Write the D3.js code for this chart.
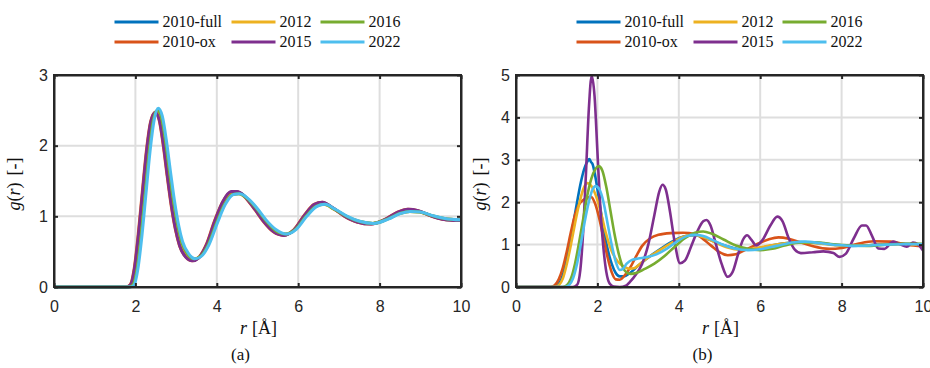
<!DOCTYPE html>
<html>
<head>
<meta charset="utf-8">
<script src="https://cdn.jsdelivr.net/npm/d3@7"></script>
<style>
  body { margin: 0; background: #fff; }
  svg { display: block; }
  .serif, .serif tspan { font-family: 'Liberation Serif', 'Times New Roman', serif; }
</style>
</head>
<body>
<script>
// series names and colours (MATLAB default order)
var seriesNames = ["2010-full", "2010-ox", "2012", "2015", "2016", "2022"];
var seriesColors = ["#0072BD", "#D95319", "#EDB120", "#7E2F8E", "#77AC30", "#4DBEEE"];

// tick labels
var xTicks = [0, 2, 4, 6, 8, 10];
var yTicksA = [0, 1, 2, 3];
var yTicksB = [0, 1, 2, 3, 4, 5];

// panel (a): [r, g(r)]
var a2010full = [[0,0],[1.8,0],[1.9,0.03],[2.0,0.26],[2.1,0.74],[2.2,1.34],[2.3,1.93],[2.4,2.34],[2.5,2.48],[2.61,2.37],[2.71,2.03],[2.81,1.58],[2.91,1.16],[3.01,0.83],[3.11,0.6],[3.26,0.44],[3.42,0.38],[3.57,0.42],[3.77,0.6],[3.97,0.92],[4.17,1.19],[4.37,1.33],[4.52,1.34],[4.77,1.24],[4.97,1.09],[5.17,0.94],[5.42,0.79],[5.67,0.74],[5.92,0.82],[6.17,1.01],[6.42,1.16],[6.62,1.19],[6.87,1.11],[7.17,1.0],[7.47,0.92],[7.82,0.9],[8.17,0.96],[8.47,1.05],[8.72,1.09],[8.97,1.07],[9.27,1.01],[9.57,0.96],[10,0.94]];
var a2010ox = [[0,0],[1.77,0],[1.87,0.03],[1.97,0.26],[2.07,0.75],[2.17,1.35],[2.27,1.93],[2.37,2.33],[2.48,2.47],[2.58,2.37],[2.68,2.02],[2.78,1.57],[2.88,1.15],[2.98,0.82],[3.08,0.59],[3.23,0.43],[3.39,0.37],[3.54,0.41],[3.74,0.6],[3.94,0.93],[4.14,1.2],[4.34,1.34],[4.49,1.35],[4.74,1.24],[4.94,1.09],[5.14,0.93],[5.39,0.78],[5.64,0.73],[5.89,0.81],[6.14,1.01],[6.39,1.17],[6.59,1.2],[6.84,1.12],[7.14,1.0],[7.44,0.92],[7.79,0.89],[8.14,0.96],[8.44,1.06],[8.69,1.1],[8.94,1.08],[9.24,1.01],[9.54,0.96],[10,0.94]];
var a2012 = [[0,0],[1.83,0],[1.93,0.03],[2.03,0.25],[2.13,0.73],[2.23,1.33],[2.33,1.92],[2.43,2.35],[2.53,2.49],[2.63,2.39],[2.73,2.05],[2.83,1.61],[2.93,1.19],[3.03,0.86],[3.13,0.62],[3.28,0.46],[3.43,0.4],[3.58,0.43],[3.78,0.6],[3.98,0.91],[4.18,1.18],[4.38,1.31],[4.53,1.32],[4.78,1.23],[4.98,1.1],[5.18,0.95],[5.43,0.8],[5.68,0.75],[5.93,0.82],[6.18,1.0],[6.43,1.14],[6.63,1.17],[6.88,1.1],[7.18,1.0],[7.48,0.93],[7.83,0.9],[8.18,0.96],[8.48,1.04],[8.73,1.07],[8.98,1.06],[9.28,1.01],[9.58,0.97],[10,0.95]];
var a2015 = [[0,0],[1.78,0],[1.88,0.03],[1.98,0.27],[2.08,0.76],[2.18,1.36],[2.28,1.94],[2.38,2.34],[2.49,2.47],[2.59,2.36],[2.69,2.01],[2.79,1.56],[2.89,1.14],[2.99,0.81],[3.09,0.58],[3.24,0.42],[3.4,0.37],[3.55,0.41],[3.75,0.6],[3.95,0.93],[4.15,1.21],[4.35,1.35],[4.5,1.35],[4.75,1.24],[4.95,1.09],[5.15,0.93],[5.4,0.78],[5.65,0.73],[5.9,0.81],[6.15,1.01],[6.4,1.17],[6.6,1.2],[6.85,1.12],[7.15,1.0],[7.45,0.92],[7.8,0.89],[8.15,0.96],[8.45,1.06],[8.7,1.1],[8.95,1.08],[9.25,1.01],[9.55,0.96],[10,0.94]];
var a2016 = [[0,0],[1.84,0],[1.94,0.03],[2.04,0.25],[2.14,0.72],[2.24,1.32],[2.34,1.92],[2.44,2.36],[2.54,2.5],[2.64,2.4],[2.74,2.06],[2.84,1.62],[2.94,1.2],[3.04,0.87],[3.14,0.63],[3.29,0.46],[3.44,0.4],[3.59,0.43],[3.79,0.6],[3.99,0.9],[4.19,1.17],[4.39,1.31],[4.54,1.32],[4.79,1.23],[4.99,1.1],[5.19,0.95],[5.44,0.8],[5.69,0.75],[5.94,0.82],[6.19,1.0],[6.44,1.14],[6.64,1.17],[6.89,1.1],[7.19,1.0],[7.49,0.93],[7.84,0.9],[8.19,0.96],[8.49,1.04],[8.74,1.07],[8.99,1.06],[9.29,1.01],[9.59,0.97],[10,0.95]];
var a2022 = [[0,0],[1.88,0],[1.97,0.03],[2.06,0.25],[2.16,0.72],[2.26,1.32],[2.36,1.92],[2.46,2.36],[2.56,2.53],[2.66,2.42],[2.76,2.08],[2.86,1.64],[2.96,1.22],[3.06,0.88],[3.16,0.64],[3.31,0.47],[3.46,0.4],[3.61,0.43],[3.81,0.6],[4.01,0.9],[4.21,1.17],[4.41,1.31],[4.56,1.32],[4.81,1.23],[5.01,1.1],[5.21,0.95],[5.46,0.81],[5.71,0.75],[5.96,0.82],[6.21,1.0],[6.46,1.14],[6.66,1.17],[6.91,1.1],[7.21,1.0],[7.51,0.93],[7.86,0.9],[8.21,0.96],[8.51,1.04],[8.76,1.07],[9.01,1.06],[9.31,1.01],[9.61,0.97],[10,0.95]];

// panel (b)
var b2010full = [[0,0],[0.9,0],[1.0,0.03],[1.1,0.15],[1.2,0.45],[1.3,0.9],[1.4,1.45],[1.5,2.0],[1.6,2.5],[1.7,2.85],[1.76,2.97],[1.8,3.02],[1.84,2.95],[1.88,2.9],[1.95,2.6],[2.05,2.0],[2.15,1.4],[2.25,0.9],[2.35,0.55],[2.45,0.33],[2.55,0.25],[2.65,0.25],[2.8,0.33],[3.0,0.5],[3.2,0.66],[3.4,0.8],[3.6,0.93],[3.8,1.05],[4.0,1.15],[4.2,1.21],[4.4,1.22],[4.6,1.17],[4.8,1.1],[5.0,1.02],[5.3,0.93],[5.6,0.88],[5.9,0.9],[6.2,0.96],[6.6,1.03],[7.0,1.06],[7.4,1.04],[7.8,1.0],[8.2,0.97],[8.6,0.98],[9.0,1.01],[9.5,1.02],[10,1.01]];
var b2010ox = [[0,0],[0.85,0],[0.95,0.04],[1.05,0.18],[1.15,0.45],[1.25,0.85],[1.35,1.3],[1.45,1.7],[1.55,1.95],[1.65,2.05],[1.75,2.1],[1.84,2.13],[1.95,1.95],[2.05,1.6],[2.15,1.15],[2.25,0.7],[2.35,0.35],[2.45,0.18],[2.55,0.17],[2.65,0.25],[2.8,0.45],[2.95,0.72],[3.1,0.97],[3.3,1.15],[3.5,1.23],[3.8,1.27],[4.1,1.28],[4.4,1.25],[4.6,1.13],[4.8,0.97],[5.0,0.82],[5.2,0.75],[5.4,0.77],[5.6,0.86],[5.9,1.0],[6.2,1.12],[6.45,1.17],[6.7,1.14],[7.0,1.05],[7.3,0.96],[7.7,0.9],[8.0,0.92],[8.4,1.02],[8.8,1.08],[9.2,1.07],[9.6,1.0],[10,0.96]];
var b2012 = [[0,0],[0.95,0],[1.05,0.04],[1.15,0.2],[1.25,0.55],[1.35,1.0],[1.45,1.5],[1.55,1.95],[1.65,2.3],[1.75,2.45],[1.82,2.42],[1.9,2.3],[2.0,2.05],[2.1,1.7],[2.2,1.3],[2.35,0.85],[2.5,0.6],[2.65,0.48],[2.8,0.43],[2.9,0.44],[3.05,0.55],[3.25,0.7],[3.5,0.85],[3.8,1.03],[4.1,1.18],[4.35,1.23],[4.6,1.18],[4.9,1.05],[5.2,0.93],[5.5,0.88],[5.8,0.9],[6.2,0.97],[6.6,1.03],[7.0,1.05],[7.5,1.02],[8.0,0.98],[8.5,0.98],[9.0,1.0],[9.5,1.01],[10,1.0]];
var b2015 = [[0,0],[1.4,0],[1.5,0.05],[1.58,0.4],[1.65,1.3],[1.72,2.7],[1.79,4.2],[1.86,4.98],[1.93,4.5],[2.0,3.2],[2.07,1.9],[2.15,0.9],[2.22,0.35],[2.3,0.08],[2.4,0.01],[2.55,0.0],[2.7,0.03],[2.8,0.12],[2.95,0.3],[3.1,0.55],[3.25,1.0],[3.4,1.7],[3.52,2.25],[3.6,2.41],[3.68,2.3],[3.78,1.8],[3.9,1.05],[4.03,0.56],[4.15,0.62],[4.3,0.95],[4.45,1.3],[4.6,1.55],[4.68,1.58],[4.78,1.45],[4.9,1.05],[5.05,0.55],[5.2,0.24],[5.32,0.35],[5.45,0.75],[5.58,1.12],[5.68,1.22],[5.78,1.12],[5.9,0.98],[6.05,1.1],[6.25,1.45],[6.42,1.66],[6.55,1.55],[6.7,1.15],[6.85,0.88],[7.0,0.8],[7.3,0.82],[7.55,0.84],[7.8,0.8],[7.95,0.71],[8.1,0.78],[8.3,1.15],[8.5,1.45],[8.6,1.45],[8.75,1.2],[8.9,0.91],[9.05,0.9],[9.27,1.07],[9.45,1.0],[9.6,0.95],[9.75,1.05],[9.88,1.0],[10,0.86]];
var b2016 = [[0,0],[1.15,0],[1.25,0.04],[1.35,0.2],[1.45,0.55],[1.55,1.05],[1.65,1.6],[1.75,2.15],[1.85,2.55],[1.95,2.78],[2.03,2.85],[2.12,2.75],[2.22,2.35],[2.32,1.8],[2.42,1.25],[2.52,0.8],[2.62,0.48],[2.72,0.34],[2.82,0.31],[2.95,0.33],[3.15,0.42],[3.4,0.55],[3.65,0.73],[3.9,0.95],[4.15,1.15],[4.4,1.28],[4.6,1.31],[4.8,1.26],[5.1,1.12],[5.4,0.98],[5.7,0.9],[6.0,0.87],[6.3,0.9],[6.6,0.98],[7.0,1.05],[7.4,1.05],[7.8,1.01],[8.2,0.98],[8.6,0.97],[9.0,0.99],[9.5,1.02],[10,1.02]];
var b2022 = [[0,0],[1.2,0],[1.3,0.04],[1.4,0.2],[1.5,0.55],[1.6,1.05],[1.7,1.6],[1.8,2.05],[1.88,2.3],[1.96,2.38],[2.05,2.3],[2.15,2.0],[2.25,1.5],[2.35,1.0],[2.45,0.6],[2.55,0.4],[2.62,0.42],[2.72,0.55],[2.85,0.64],[3.0,0.67],[3.2,0.7],[3.45,0.77],[3.7,0.9],[3.95,1.07],[4.2,1.2],[4.4,1.23],[4.6,1.2],[4.85,1.1],[5.1,0.99],[5.4,0.9],[5.7,0.87],[6.0,0.89],[6.4,0.97],[6.8,1.05],[7.1,1.07],[7.5,1.03],[7.9,0.99],[8.3,0.97],[8.7,0.98],[9.1,1.0],[9.5,1.01],[10,1.01]];

window.onload = drawFigure();

function drawFigure(){
    var width = 930,
        height = 368;

    var svg = d3.select("body")
        .append("svg")
        .attr("width", width)
        .attr("height", height);

    var panels = [
        {left: 54, right: 461, top: 75, bottom: 287, yMax: 3, yTicks: yTicksA, lineW: 3, yLab: 34,
         series: [a2010full, a2010ox, a2012, a2015, a2016, a2022], tag: "(a)"},
        {left: 516, right: 923, top: 75, bottom: 287, yMax: 5, yTicks: yTicksB, lineW: 2.6, yLab: 30,
         series: [b2010full, b2010ox, b2012, b2015, b2016, b2022], tag: "(b)"}
    ];

    panels.forEach(function(p){
        drawPanel(svg, p);
    });
}

function drawPanel(svg, p){
    var x = d3.scaleLinear().domain([0, 10]).range([p.left, p.right]);
    var y = d3.scaleLinear().domain([0, p.yMax]).range([p.bottom, p.top]);
    var g = svg.append("g");

    // grid
    g.selectAll(".gx").data(xTicks.slice(1, -1)).enter().append("line")
        .attr("x1", function(d){ return x(d); }).attr("x2", function(d){ return x(d); })
        .attr("y1", p.top).attr("y2", p.bottom)
        .attr("stroke", "#dedede").attr("stroke-width", 2);
    g.selectAll(".gy").data(p.yTicks.slice(1, -1)).enter().append("line")
        .attr("y1", function(d){ return y(d); }).attr("y2", function(d){ return y(d); })
        .attr("x1", p.left).attr("x2", p.right)
        .attr("stroke", "#dedede").attr("stroke-width", 2);

    // curves
    var line = d3.line()
        .x(function(d){ return x(d[0]); })
        .y(function(d){ return y(d[1]); })
        .curve(d3.curveMonotoneX);

    g.selectAll(".curve").data(p.series).enter().append("path")
        .attr("d", line)
        .attr("fill", "none")
        .attr("stroke", function(d, i){ return seriesColors[i]; })
        .attr("stroke-width", p.lineW)
        .attr("stroke-linejoin", "round");

    // axes, ticks inside on all sides
    var axCol = "#262626";
    var fmt = d3.format("d");
    var bottomAx = g.append("g").attr("transform", "translate(0," + p.bottom + ")")
        .call(d3.axisBottom(x).tickValues(xTicks).tickFormat(fmt).tickSizeInner(-4).tickSizeOuter(0).tickPadding(12));
    var topAx = g.append("g").attr("transform", "translate(0," + p.top + ")")
        .call(d3.axisTop(x).tickValues(xTicks).tickSizeInner(-4).tickSizeOuter(0).tickFormat(""));
    var leftAx = g.append("g").attr("transform", "translate(" + p.left + ",0)")
        .call(d3.axisLeft(y).tickValues(p.yTicks).tickFormat(fmt).tickSizeInner(-4).tickSizeOuter(0).tickPadding(6));
    var rightAx = g.append("g").attr("transform", "translate(" + p.right + ",0)")
        .call(d3.axisRight(y).tickValues(p.yTicks).tickSizeInner(-4).tickSizeOuter(0).tickFormat(""));

    [bottomAx, topAx, leftAx, rightAx].forEach(function(a){
        a.select(".domain").attr("stroke", axCol).attr("stroke-width", 2);
        a.selectAll(".tick line").attr("stroke", axCol).attr("stroke-width", 2);
        a.selectAll(".tick text")
            .attr("fill", axCol)
            .style("font-family", "'Liberation Sans', Arial, sans-serif")
            .style("font-size", "16px");
    });
    bottomAx.selectAll(".tick text").attr("dy", "0.71em").attr("y", 14);

    // box outline
    g.append("rect")
        .attr("x", p.left).attr("y", p.top)
        .attr("width", p.right - p.left).attr("height", p.bottom - p.top)
        .attr("fill", "none").attr("stroke", axCol).attr("stroke-width", 2);

    var cx = (p.left + p.right) / 2;

    // x label: r [Å]
    var xl = g.append("text")
        .attr("class", "serif")
        .attr("x", cx + 1).attr("y", 334)
        .attr("text-anchor", "middle")
        .attr("fill", "#111")
        .style("font-size", "18px");
    xl.append("tspan").style("font-style", "italic").text("r");
    xl.append("tspan").attr("dx", 5).text("[Å]");

    // y label: g(r) [-]
    var yl = g.append("text")
        .attr("class", "serif")
        .attr("transform", "translate(" + (p.left - p.yLab) + "," + ((p.top + p.bottom) / 2 + 3) + ") rotate(-90)")
        .attr("text-anchor", "middle")
        .attr("fill", "#111")
        .style("font-size", "18px");
    yl.append("tspan").style("font-style", "italic").text("g");
    yl.append("tspan").text("(");
    yl.append("tspan").style("font-style", "italic").text("r");
    yl.append("tspan").text(")");
    yl.append("tspan").attr("dx", 7).text("[-]");

    // panel tag
    g.append("text")
        .attr("class", "serif")
        .attr("x", cx - 17).attr("y", 360)
        .attr("text-anchor", "middle")
        .attr("fill", "#111")
        .style("font-size", "17px")
        .text(p.tag);

    // legend: 3 columns x 2 rows, column-major
    var legLeft = cx - 143;
    var colOff = [0, 117, 206];
    var rowY = [22, 42];
    var leg = g.selectAll(".leg").data(seriesNames).enter().append("g")
        .attr("transform", function(d, i){
            return "translate(" + (legLeft + colOff[Math.floor(i / 2)]) + "," + rowY[i % 2] + ")";
        });
    leg.append("line")
        .attr("x1", 0).attr("x2", 44).attr("y1", 0).attr("y2", 0)
        .attr("stroke", function(d, i){ return seriesColors[i]; })
        .attr("stroke-width", 3);
    leg.append("text")
        .attr("class", "serif")
        .attr("x", 48).attr("y", 5)
        .style("font-size", "16px")
        .attr("fill", "#111")
        .text(function(d){ return d; });
}
</script>
</body>
</html>
